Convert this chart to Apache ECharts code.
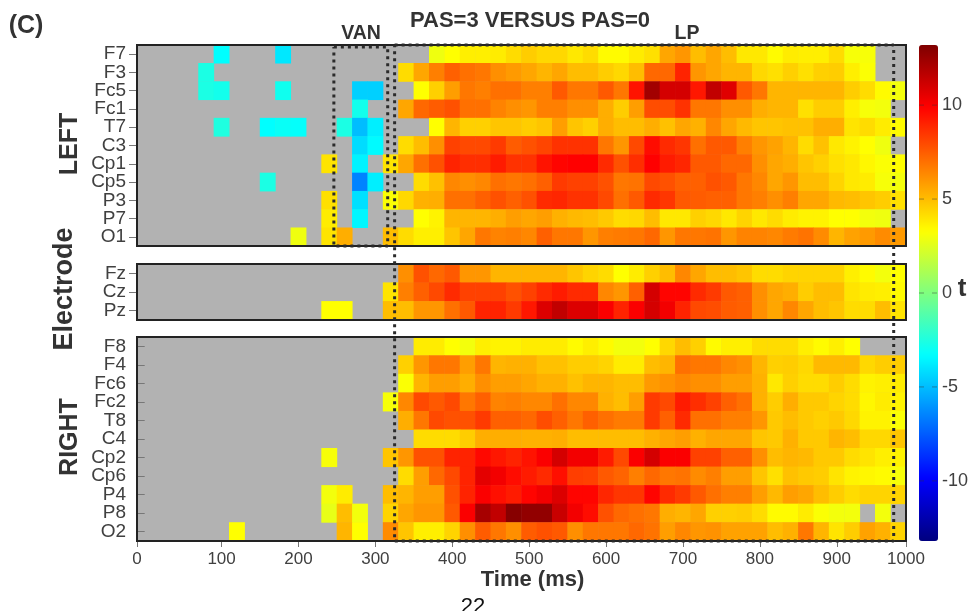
<!DOCTYPE html>
<html><head><meta charset="utf-8">
<style>html,body{margin:0;padding:0;background:#fff;overflow:hidden}#c{width:972px;height:611px}</style>
<script src="https://cdn.jsdelivr.net/npm/echarts@6/dist/echarts.min.js"></script>
</head><body><div id="c"></div>
<script>
const N = null;
const timeBins = [0,20,40,60,80,100,120,140,160,180,200,220,240,260,280,300,320,340,360,380,400,420,440,460,480,500,520,540,560,580,600,620,640,660,680,700,720,740,760,780,800,820,840,860,880,900,920,940,960,980];
const tickPositions = [-10,100,200,300,400,500,600,700,800,900,990];
const tickLabels = ['0','100','200','300','400','500','600','700','800','900','1000'];
const colorTicks = [-10,-5,0,5,10];
const jet = ['#00007f','#0000ff','#007fff','#00ffff','#7fff7f','#ffff00','#ff7f00','#ff0000','#7f0000'];

const F7 =[N,N,N,N,N,-3.3,N,N,N,-3.9, N,N,N,N,N,N,N,N,N,2.9, 3.3,3.7,3.7,3.8,4.2,4.6,4.3,4.3,3.9,4.2, 3.4,3.4,3.8,4.1,5.6,6,5,5.6,5,3.9, 3.9,3.4,3.8,3.7,3.7,4.2,3.1,3.1,N,N];
const F3 =[N,N,N,N,-2.6,N,N,N,N,N, N,N,N,N,N,N,N,4.2,5.6,6.6, 7.4,7,6.8,6.2,5.9,5.6,5.2,5.6,5,5, 4.6,4.3,5,7.2,7.2,9,6,5.6,5.2,5.2, 4.3,4.1,4.5,4.1,4.5,4.6,3.7,3.2,N,N];
const Fc5=[N,N,N,N,-2.6,-2.8,N,N,N,-2.9, N,N,N,N,-4.5,-4.5,N,N,3.3,4.5, 5.8,6.8,6.6,7,7,6.6,6.6,7.6,6.8,6.8, 7.6,6.8,9.4,12.3,11,11,9.3,11.5,10.7,7.6, 6.8,5.2,5.2,5.2,5.2,5.2,4.6,4.2,3.4,3];
const Fc1=[N,N,N,N,N,N,N,N,N,N, N,N,N,N,-2.8,N,N,5.6,7.2,7.5, 7.8,7,7,6.5,6.2,6,6.6,6.6,6.2,6.2, 5.4,4.6,5.8,7.9,7.9,8.6,6.8,6.8,6.2,6.2, 5.4,5.2,5.2,4.1,4.6,4.6,3.7,3.1,3,N];
const T7 =[N,N,N,N,N,-2.5,N,N,-3.3,-3.1, -3.2,N,N,-2.6,-5,-3.7,N,N,N,3.3, 5.2,4.5,4.5,4.8,4.8,4.6,4.8,5.8,4.8,4.5, 5.4,5,5,5.4,4.9,5.6,5.3,6.4,5.6,5.1, 4.8,4.8,4.9,4.9,5.4,5.4,4,4.2,3.8,3.4];
const C3 =[N,N,N,N,N,N,N,N,N,N, N,N,N,N,-4.2,-3.4,N,4.2,5,6.2, 8.2,8,8,8.4,7.5,7.8,8.1,8.6,8.6,8.6, 6.8,6,8,9.6,8.8,8.5,7,7.6,7.6,6.6, 6,5.7,5.2,4.2,4.9,3.9,3.6,3.3,2.9,N];
const Cp1=[N,N,N,N,N,N,N,N,N,N, N,N,4,N,-3.6,N,4,5.6,7,7.8, 9,8.7,8.7,9.2,8.6,8.6,9.4,9.8,9.9,9.9, 8.8,7.8,8.7,9.9,9.2,8.9,7.6,7.6,7.2,7.2, 6.2,5.6,5.4,4.8,4.5,4.1,3.9,3.5,3.2,3.3];
const Cp5=[N,N,N,N,N,N,N,N,-2.6,N, N,N,N,N,-6.5,-3.7,N,N,4.2,4.9, 6.4,6.2,6.4,7,6.8,7,7.4,8.4,8.2,8.2, 7.8,6.8,6.9,8,7.8,7.4,7.4,7.8,7.6,6.8, 6.4,5.6,6,5,5,4.4,3.9,3.8,3.1,3];
const P3 =[N,N,N,N,N,N,N,N,N,N, N,N,4.1,N,-4.1,N,3.2,4.3,5.3,5.4, 7,7,7.4,7.8,7.4,7.8,8.8,8.9,8.6,8.6, 8,7,7.6,8.8,8.5,7.6,7.5,7.4,7.4,6.8, 6.6,6.2,6.6,5.6,5.6,5.1,5,4.8,4.6,4.1];
const P7 =[N,N,N,N,N,N,N,N,N,N, N,N,3.8,N,-3.5,N,N,N,3.3,3.6, 5.2,5.2,5.2,5.4,5.8,5.6,5.8,5.3,5.1,5, 4.7,4.2,4.3,5,3.9,3.9,4.5,4.3,3.9,4.4, 3.9,4.2,3.8,3.6,3.6,3.3,3.3,3,2.9,N];
const O1 =[N,N,N,N,N,N,N,N,N,N, 2.9,N,4,5.4,N,N,5,4.2,3.7,3.7, 4.8,5.6,6.8,6.5,6.6,6.4,7.4,6.8,6.8,6, 6.6,6.7,6.8,7.2,6,6.8,6.8,6.9,6,6.5, 6.5,6.4,6.7,6.9,6.3,5.2,5.7,5.9,6.3,5.9];

const Fz =[N,N,N,N,N,N,N,N,N,N, N,N,N,N,N,N,N,6.2,7.8,7.2, 7.6,6,6,5.2,5.2,5.2,5.2,5.2,4.8,4.4, 4.2,3.3,3.8,4.5,5,6.4,5.6,5,5,4.8, 4.2,4.2,4.4,4.4,4.4,4.4,3.7,3.4,3,3.3];
const Cz =[N,N,N,N,N,N,N,N,N,N, N,N,N,N,N,N,4,6.6,7.4,8, 8.8,8.2,8.2,8.2,7.8,8.2,8.8,9.2,8.8,8.8, 6.4,6,7.4,11,9.8,9.8,8.8,8.4,7.6,7.4, 6.2,5.6,5.4,4.6,5,5,4,3.8,3.7,3.4];
const Pz =[N,N,N,N,N,N,N,N,N,N, N,N,3.3,3.3,N,N,5,5,6,6, 7,7.6,9,9,8.4,9.3,10.8,11.5,10.8,10.8, 10,9,10,11,10.2,9,8,7.9,7.5,7.4, 6.2,5.6,6.4,5.6,5,4.8,4.2,4.2,5,4];

const F8 =[N,N,N,N,N,N,N,N,N,N, N,N,N,N,N,N,N,N,3.8,3.8, 3.3,3,3.7,3.6,3.6,3.8,3.8,3.8,3.4,3.7, 3.4,3,3,3.3,4.3,5,4.5,3.4,3.7,3.7, 4.2,4.2,4.2,3.7,3.4,3.7,3.3,N,N,N];
const F4 =[N,N,N,N,N,N,N,N,N,N, N,N,N,N,N,N,N,4.5,6,6.8, 6.8,5.8,6.8,5.2,5.3,5.3,4.9,4.9,4.6,4.6, 4.4,3.8,3.8,5,5.2,7,6.8,6.8,6.4,6.2, 5.2,4.5,4.6,4.3,5.1,5.1,5.1,4.3,4.6,4.6];
const Fc6=[N,N,N,N,N,N,N,N,N,N, N,N,N,N,N,N,N,3.2,5.2,5.8, 5.8,5.4,6.2,5.8,5.8,5.6,5.3,5.3,4.9,5.2, 5.2,5,5,5.9,6.1,6.4,6.2,6.2,5.8,5.8, 5.3,3.9,4.5,4.2,4.2,4.6,4.2,3.6,3.7,3.8];
const Fc2=[N,N,N,N,N,N,N,N,N,N, N,N,N,N,N,N,3.1,6.4,8,7.6, 8,6.8,7.4,6.5,6.6,6.4,6.4,7,6.4,6.4, 5.3,5,5.8,8.4,8,9.2,8.7,8.2,7.4,7, 5.3,4.6,5.4,4.7,4.7,4.4,4.2,3.5,3.8,3.6];
const T8 =[N,N,N,N,N,N,N,N,N,N, N,N,N,N,N,N,N,5.4,6.8,8, 7.8,7.8,8.4,7.4,7.4,7.2,7.9,7.4,6.8,7.4, 7,6.7,6.7,8.4,7.4,8.8,7,7,6.6,6.6, 6,4.7,5,4.7,4.5,4.7,4.3,3.6,3.6,3.2];
const C4 =[N,N,N,N,N,N,N,N,N,N, N,N,N,N,N,N,N,N,4.2,4.2, 4.2,4.6,5.4,5.4,5.4,5.3,5.3,5.4,5,5, 5,5,5,5.3,5.6,5.8,5.3,5.6,5.6,5.6, 4.8,4.7,5.3,4.7,4.7,5.2,5,4.3,4.3,4.8];
const Cp2=[N,N,N,N,N,N,N,N,N,N, N,N,3.1,N,N,N,4.8,6,7.8,7.8, 9,9,9.7,9.3,9,9.4,10,11,10.2,10.2, 9.2,8,10,11,10,10,8.2,8.2,7.4,7.4, 6.2,5,5.2,5.1,4.7,4.7,4.2,4,3.7,3.6];
const Cp6=[N,N,N,N,N,N,N,N,N,N, N,N,N,N,N,N,N,4.2,5.8,7.2, 8,9,10.6,10.2,9.6,9.2,8.8,9.5,8.3,8.2, 7.6,7.3,6.6,7.2,6.8,6.9,6.3,6.6,5.8,5.8, 4.8,4.1,4.9,4.7,4.6,4,3.6,3.5,3.4,3.1];
const P4 =[N,N,N,N,N,N,N,N,N,N, N,N,3,3.8,N,N,5,5.2,5.8,5.8, 7.8,9,10,9.5,9.2,9.8,10.2,10.8,9.8,9.8, 8.9,8.5,8.5,9.8,8.8,8.4,7.6,7,6.6,6.6, 5.8,5.1,5.8,5.6,5,4.6,4.2,4.4,4.4,4.4];
const P8 =[N,N,N,N,N,N,N,N,N,N, N,N,2.7,5,3,N,4.4,5.6,6,6, 7.6,10,12.2,11.5,13,12.7,12.7,11.3,10.2,9.6, 7.8,7.2,7,6.8,5.4,5.2,5.6,4.5,4.5,4.6, 4.2,3.4,3.4,3.8,3.2,3,3,N,3,N];
const O2 =[N,N,N,N,N,N,3.3,N,N,N, N,N,N,5.2,3.3,N,6.3,4.8,3.7,3.7, 4.4,6.2,7.5,6.8,6.2,7.5,7.8,7.6,6.2,6.8, 6.8,6.8,7.2,6.9,5.8,6.4,6,6.1,5.7,5.7, 5.7,5,5.3,6.8,5.2,4,4.6,5.7,5.3,4.4];

const leftNames = ['F7','F3','Fc5','Fc1','T7','C3','Cp1','Cp5','P3','P7','O1'];
const leftRows = [F7,F3,Fc5,Fc1,T7,C3,Cp1,Cp5,P3,P7,O1];
const midNames = ['Fz','Cz','Pz'];
const midRows = [Fz,Cz,Pz];
const rightNames = ['F8','F4','Fc6','Fc2','T8','C4','Cp2','Cp6','P4','P8','O2'];
const rightRows = [F8,F4,Fc6,Fc2,T8,C4,Cp2,Cp6,P4,P8,O2];

// dotted time windows: [ms, fraction of the stacked panel height]
const vanBoxMs = [246,316,316,246,246];
const vanBoxY  = [0.004,0.004,0.405,0.405,0.004];
const lpBoxMs  = [325,974,974,325,325];
const lpBoxY   = [0,0,1,1,0];

const FONT = '"Liberation Sans", Arial, sans-serif';
const L = 137, W = 769;
const panels = [
  {top:45, h:201, names:leftNames, rows:leftRows},
  {top:264, h:56, names:midNames, rows:midRows},
  {top:337, h:204, names:rightNames, rows:rightRows}
];

const grids = [], xAxes = [], yAxes = [], series = [], frames = [];
panels.forEach((p,i)=>{
  grids.push({left:L, width:W, top:p.top, height:p.h, show:true, backgroundColor:'#b2b2b2', borderWidth:0, containLabel:false});
  xAxes.push({type:'category', gridIndex:i, data:timeBins, show:false});
  yAxes.push({type:'category', gridIndex:i, data:p.names, inverse:true,
    axisLine:{show:false}, splitLine:{show:false},
    axisTick:{show:true, alignWithLabel:true, length:8, lineStyle:{color:'#777',width:1}},
    axisLabel:{interval:0, fontFamily:FONT, fontSize:19, color:'#404040', margin:11}});
  const data = [];
  p.rows.forEach((r,y)=>r.forEach((v,x)=>{ data.push([x,y,v===null?'-':v]); }));
  series.push({type:'heatmap', xAxisIndex:i, yAxisIndex:i, data, progressive:0, silent:true,
    itemStyle:{borderWidth:0}, emphasis:{disabled:true}});
  frames.push({type:'rect', z:50, silent:true, shape:{x:L,y:p.top,width:W,height:p.h},
    style:{fill:'transparent',stroke:'#222',lineWidth:2}});
});

// real time axis under the bottom panel
xAxes.push({type:'value', gridIndex:2, min:-10, max:990, position:'bottom',
  name:'Time (ms)', nameLocation:'middle', nameGap:23,
  nameTextStyle:{fontFamily:FONT, fontWeight:'bold', fontSize:22, color:'#333', padding:[0,0,0,22]},
  axisLine:{show:false}, splitLine:{show:false},
  axisTick:{show:true, length:6, customValues:tickPositions, lineStyle:{color:'#777'}},
  axisLabel:{customValues:tickPositions, fontFamily:FONT, fontSize:17, color:'#404040', margin:10, hideOverlap:false,
    showMinLabel:true, showMaxLabel:true,
    formatter:v=>tickLabels[tickPositions.indexOf(v)]}});

// overlay for dotted windows
grids.push({left:L, width:W, top:45, height:496});
xAxes.push({type:'value', gridIndex:3, min:-10, max:990, show:false});
yAxes.push({type:'value', gridIndex:3, min:0, max:1, inverse:true, show:false});
const dotted = {type:'line', xAxisIndex:4, yAxisIndex:3, symbol:'none', silent:true, z:60, clip:false,
  lineStyle:{color:'#2b2b2b', width:3, type:[3,4]}};
series.push(Object.assign({}, dotted, {data:vanBoxMs.map((x,i)=>[x,vanBoxY[i]])}));
series.push(Object.assign({}, dotted, {data:lpBoxMs.map((x,i)=>[x,lpBoxY[i]])}));

// colour bar axis
grids.push({left:919, width:19, top:45, height:496});
xAxes.push({type:'value', gridIndex:4, min:0, max:1, show:false});
yAxes.push({type:'value', gridIndex:4, min:-13.2, max:13.2, position:'right',
  axisLine:{show:false}, splitLine:{show:false}, axisTick:{show:false},
  axisLabel:{customValues:colorTicks, fontFamily:FONT, fontSize:18, color:'#404040', margin:4}});
colorTicks.forEach(v=>series.push({type:'line', xAxisIndex:5, yAxisIndex:4, symbol:'none', silent:true, z:20,
  data:[[0,v],[1,v]], lineStyle:{color:'rgba(50,50,50,0.45)', width:1, type:[5,8]}}));

const txt = (x,y,text,size,opt={}) => Object.assign({type:'text', z:70, silent:true, x, y,
  style:{text, fontFamily:FONT, fontWeight:'bold', fontSize:size, fill:'#333', align:'center', verticalAlign:'middle'}}, opt);
const vtxt = (x,y,text,size) => ({type:'text', z:70, silent:true, x, y, rotation:Math.PI/2,
  style:{text, fontFamily:FONT, fontWeight:'bold', fontSize:size, fill:'#333', align:'center', verticalAlign:'middle'}});

const chart = echarts.init(document.getElementById('c'), null, {renderer:'canvas'});
chart.setOption({
  animation:false, backgroundColor:'#fff',
  title:{text:'PAS=3 VERSUS PAS=0', left:525, top:5, textAlign:'center',
    textStyle:{fontFamily:FONT, fontWeight:'bold', fontSize:22, color:'#333'}},
  grid:grids, xAxis:xAxes, yAxis:yAxes, series,
  visualMap:{type:'continuous', min:-13.2, max:13.2, seriesIndex:[0,1,2], show:true, calculable:false,
    left:919, top:45, padding:0, itemWidth:19, itemHeight:496, text:null, inRange:{color:jet}, hoverLink:false,
    realtime:false, borderWidth:0},
  graphic:[...frames,
    txt(26,26,'(C)',25),
    txt(361,34,'VAN',19.5),
    txt(687,34,'LP',19.5),
    vtxt(70,144,'LEFT',25),
    vtxt(65,289,'Electrode',27),
    vtxt(70,437,'RIGHT',25),
    txt(962,289,'t',26),
    {type:'text', z:70, silent:true, x:473, y:596, style:{text:'22', fontFamily:FONT, fontSize:22, fill:'#111', align:'center', verticalAlign:'top'}}
  ]
});
</script></body></html>
